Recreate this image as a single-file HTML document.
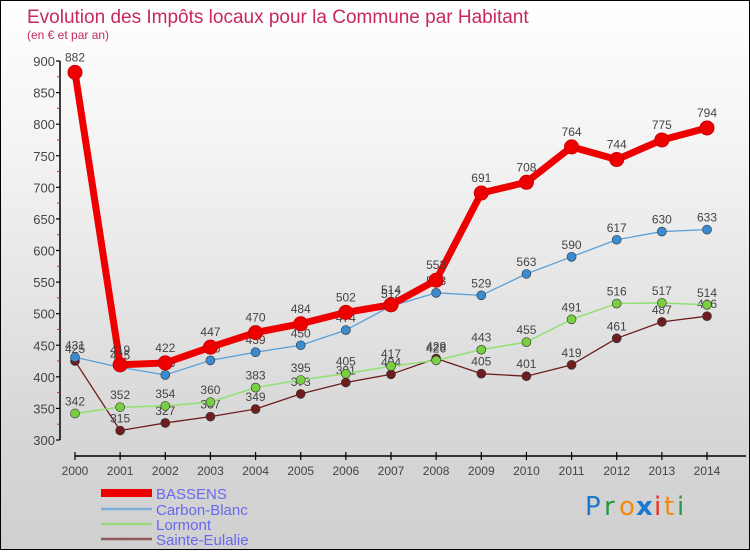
<!DOCTYPE html>
<html><head><meta charset="utf-8"><style>
html,body{margin:0;padding:0}
body{width:750px;height:550px;overflow:hidden;font-family:"Liberation Sans",sans-serif}
#wrap{position:relative;width:748px;height:548px;border:1px solid #000;background:linear-gradient(to bottom,#ffffff 0%,#f2f2f2 30%,#d6d6d6 80%,#d0d0d0 100%)}
</style></head><body>
<div id="wrap">
<svg id="chart" width="748" height="548" xmlns="http://www.w3.org/2000/svg">
<text x="26" y="22" font-size="19" fill="#c8285a">Evolution des Impôts locaux pour la Commune par Habitant</text>
<text x="26" y="38" font-size="12" fill="#c8285a">(en € et par an)</text>
<g id="axes"></g>
<g id="series"></g>
<g id="legend"></g>
<g font-size="26" font-family="'DejaVu Sans',sans-serif">
<text x="584" y="514" fill="#1a78d0">P</text><text x="603" y="514" fill="#2a9a40">r</text><text x="618" y="514" fill="#f08a10">o</text><text x="635" y="514" fill="#1a78d0" font-weight="bold">x</text><text x="653" y="514" fill="#e83020">i</text><text x="663" y="514" fill="#f08a10">t</text><text x="676" y="514" fill="#2a9a40">i</text>
</g>
</svg>
</div>
<script>
const years=[2000,2001,2002,2003,2004,2005,2006,2007,2008,2009,2010,2011,2012,2013,2014];
const yTicks=[300,350,400,450,500,550,600,650,700,750,800,850,900];
const bassens=[882,419,422,447,470,484,502,514,553,691,708,764,744,775,794];
const carbonBlanc=[431,415,403,426,439,450,474,512,533,529,563,590,617,630,633];
const lormont=[342,352,354,360,383,395,405,417,426,443,455,491,516,517,514];
const sainteEulalie=[425,315,327,337,349,373,391,404,429,405,401,419,461,487,496];
const NS="http://www.w3.org/2000/svg";
function X(i){return 74+i*(706-74)/(years.length-1);}
function Y(v){return 439-(v-300)*(439-60)/600;}
function el(tag,attrs,parent){const e=document.createElementNS(NS,tag);for(const k in attrs)e.setAttribute(k,attrs[k]);parent.appendChild(e);return e;}
const axes=document.getElementById('axes');
let a=el('line',{x1:59,y1:Y(900),x2:59,y2:Y(300),stroke:'#000','stroke-width':1.5},axes);


for(let v=325;v<900;v+=50){
  const t=el('line',{x1:56,y1:Y(v),x2:59,y2:Y(v),stroke:'#e02020','stroke-width':1},axes);
  
  
}
yTicks.forEach(v=>{
  const t=el('line',{x1:55,y1:Y(v),x2:59,y2:Y(v),stroke:'#000','stroke-width':1.2},axes);
  
  
  const l=el('text',{x:54,y:Y(v)+5,'font-size':13,'text-anchor':'end',fill:'#444'},axes);
  l.textContent=v;
  
  
});
a=el('line',{x1:X(0),y1:455,x2:745,y2:455,stroke:'#000','stroke-width':1.5},axes);


years.forEach((y,i)=>{
  const t=el('line',{x1:X(i),y1:451,x2:X(i),y2:459,stroke:'#000','stroke-width':1.2},axes);
  
  
  const l=el('text',{x:X(i),y:474,'font-size':12,'text-anchor':'middle',fill:'#444'},axes);
  l.textContent=y;
  
  
});
const seriesG=document.getElementById('series');
const defs=[
 {name:'sainte-eulalie',data:sainteEulalie,color:'#6e1e1e',w:1.3,r:4.5,fill:'#6e1e1e'},
 {name:'lormont',data:lormont,color:'#90e070',w:1.5,r:4.5,fill:'#78d040'},
 {name:'carbon-blanc',data:carbonBlanc,color:'#5aa0d8',w:1.3,r:4.5,fill:'#3a8cd0'},
 {name:'bassens',data:bassens,color:'#ee0000',w:7,r:7,fill:'#ee0000'}
];
defs.forEach(s=>{
  const g=el('g',{},seriesG);
  
  
  const p=el('polyline',{points:s.data.map((v,i)=>X(i)+','+Y(v)).join(' '),fill:'none',stroke:s.color,'stroke-width':s.w,'stroke-linejoin':'round'},g);
  
  
  s.data.forEach((v,i)=>{
    const c=el('circle',{cx:X(i),cy:Y(v),r:s.r,fill:s.fill,stroke:s.name==='bassens'?'#cc0000':'#333','stroke-width':s.name==='bassens'?1:0.6},g);
    
    
    const t=el('text',{x:X(i),y:Y(v)-(s.name==='bassens'?11:8),'font-size':12,'text-anchor':'middle',fill:'#444'},g);
    t.textContent=v;
    
    
  });
});
const leg=document.getElementById('legend');
const legItems=[['BASSENS','#ee0000',8,492],['Carbon-Blanc','#7aaed8',2.5,508],['Lormont','#9ad880',2.5,523],['Sainte-Eulalie','#905858',2.5,538]];
legItems.forEach(it=>{
  const g=el('g',{},leg);
  
  
  el('line',{x1:100,y1:it[3],x2:151,y2:it[3],stroke:it[1],'stroke-width':it[2]},g);
  const t=el('text',{x:155,y:it[3]+6,'font-size':15,fill:'#6868f0'},g);
  t.textContent=it[0];
});
</script>
</body></html>
